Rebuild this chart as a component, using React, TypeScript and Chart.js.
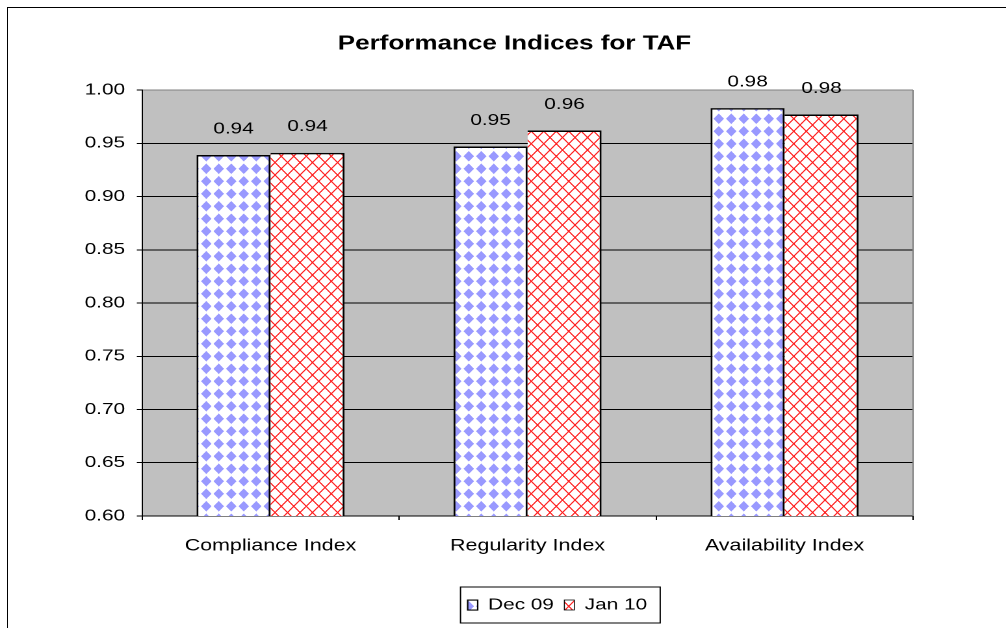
import React, { useEffect, useRef } from 'react';
import { Chart, registerables } from 'chart.js';

Chart.register(...registerables);

// ---- data ----
const titleText = 'Performance Indices for TAF';
const categories = ['Compliance Index', 'Regularity Index', 'Availability Index'];
const seriesNames = ['Dec 09', 'Jan 10'];
const dec09Values = [0.939, 0.947, 0.983];
const jan10Values = [0.941, 0.962, 0.977];
const yMin = 0.6;
const yMax = 1.0;
const yStep = 0.05;

// ---- geometry of the (horizontally stretched) picture ----
const PAGE_W = 1006;
const PAGE_H = 628;
const CANVAS_W = 774;
const STRETCH = PAGE_W / CANVAS_W;
const FONT = '"Liberation Sans", Arial, Helvetica, sans-serif';

function makePattern(
  draw: (c: CanvasRenderingContext2D, s: number) => void,
  periodX: number,
  periodY: number
): CanvasPattern | string {
  const S = 60;
  const off = document.createElement('canvas');
  off.width = S;
  off.height = S;
  const c = off.getContext('2d');
  if (!c) return '#fff';
  c.fillStyle = '#ffffff';
  c.fillRect(0, 0, S, S);
  draw(c, S);
  const p = c.createPattern(off, 'repeat');
  if (!p) return '#fff';
  p.setTransform(new DOMMatrix().scale(periodX / S, periodY / S));
  return p;
}

function diamondPattern() {
  return makePattern(
    (c, S) => {
      const h = S * 0.42;
      c.fillStyle = '#9999ff';
      c.beginPath();
      c.moveTo(S / 2, S / 2 - h);
      c.lineTo(S / 2 + h, S / 2);
      c.lineTo(S / 2, S / 2 + h);
      c.lineTo(S / 2 - h, S / 2);
      c.closePath();
      c.fill();
    },
    12.5 / STRETCH,
    12.5
  );
}

function crossPattern() {
  return makePattern(
    (c, S) => {
      c.strokeStyle = '#ff2020';
      c.lineWidth = 5.5;
      for (let k = -1; k <= 1; k++) {
        c.beginPath();
        c.moveTo(k * S - 6, -6);
        c.lineTo(k * S + S + 6, S + 6);
        c.stroke();
        c.beginPath();
        c.moveTo(k * S + S + 6, -6);
        c.lineTo(k * S - 6, S + 6);
        c.stroke();
      }
    },
    12.5 / STRETCH,
    12.5
  );
}

const plotBackground = {
  id: 'plotBackground',
  beforeDraw(chart: any) {
    const { ctx, chartArea } = chart;
    ctx.save();
    ctx.fillStyle = '#c0c0c0';
    ctx.fillRect(chartArea.left, chartArea.top, chartArea.right - chartArea.left, chartArea.bottom - chartArea.top);
    ctx.restore();
  },
  afterDraw(chart: any) {
    const { ctx, chartArea } = chart;
    ctx.save();
    ctx.strokeStyle = '#808080';
    ctx.lineWidth = 1;
    ctx.beginPath();
    ctx.moveTo(chartArea.right, chartArea.top);
    ctx.lineTo(chartArea.right, chartArea.bottom);
    ctx.stroke();
    ctx.restore();
  },
};

const valueLabels = {
  id: 'valueLabels',
  afterDatasetsDraw(chart: any) {
    const ctx = chart.ctx;
    ctx.save();
    ctx.font = `16px ${FONT}`;
    ctx.fillStyle = '#000';
    ctx.textAlign = 'center';
    ctx.textBaseline = 'middle';
    chart.data.datasets.forEach((ds: any, i: number) => {
      chart.getDatasetMeta(i).data.forEach((el: any, j: number) => {
        ctx.fillText(Number(ds.data[j]).toFixed(2), el.x, el.y - 26);
      });
    });
    ctx.restore();
  },
};

const boxShift = {
  id: 'boxShift',
  afterLayout(chart: any) {
    const lg = chart.legend;
    if (lg) {
      lg.left += 23;
      lg.right += 23;
    }
    const tb = chart.titleBlock;
    if (tb) {
      tb.left -= 10;
      tb.right -= 10;
    }
  },
  afterDraw(chart: any) {
    const lg = chart.legend;
    if (!lg || !lg.legendHitBoxes || !lg.legendHitBoxes.length) return;
    const hb = lg.legendHitBoxes;
    const first = hb[0];
    const last = hb[hb.length - 1];
    const ctx = chart.ctx;
    const l = first.left - 5.5;
    const r = last.left + last.width + 10;
    const t = first.top - 10;
    const b = first.top + first.height + 10;
    ctx.save();
    ctx.strokeStyle = '#000';
    ctx.lineWidth = 1;
    ctx.strokeRect(l, t, r - l, b - t);
    ctx.restore();
  },
};

export default function App() {
  const canvasRef = useRef<HTMLCanvasElement | null>(null);

  useEffect(() => {
    const canvas = canvasRef.current;
    if (!canvas) return;
    const chart = new Chart(canvas, {
      type: 'bar',
      data: {
        labels: categories,
        datasets: [
          {
            label: seriesNames[0],
            data: dec09Values,
            backgroundColor: diamondPattern() as any,
            borderColor: '#000',
            borderWidth: { left: 1.5, top: 1.5, right: 1.5, bottom: 0 } as any,
            categoryPercentage: 0.576,
            barPercentage: 1.0,
          },
          {
            label: seriesNames[1],
            data: jan10Values,
            backgroundColor: crossPattern() as any,
            borderColor: '#000',
            borderWidth: { left: 0, top: 1.5, right: 1.5, bottom: 0 } as any,
            categoryPercentage: 0.576,
            barPercentage: 1.0,
          },
        ],
      },
      options: {
        responsive: false,
        animation: false,
        devicePixelRatio: 2,
        layout: { padding: { left: 0, right: 71.5, top: 0, bottom: 5 } },
        font: { family: FONT },
        plugins: {
          title: {
            display: true,
            text: titleText,
            fullSize: false,
            color: '#000',
            font: { family: FONT, size: 20, weight: 'bold' },
            padding: { top: 32, bottom: 34 },
          },
          legend: {
            display: true,
            position: 'bottom',
            fullSize: false,
            labels: {
              color: '#000',
              font: { family: FONT, size: 16 },
              boxWidth: 7.7,
              boxHeight: 10,
              padding: 8,
            },
          },
          tooltip: { enabled: false },
        },
        scales: {
          x: {
            ticks: {
              color: '#000',
              font: { family: FONT, size: 16.5 },
              padding: 16,
              maxRotation: 0,
              autoSkip: false,
            },
            grid: {
              drawOnChartArea: false,
              drawTicks: true,
              tickLength: 4,
              color: '#000',
              tickColor: '#000',
            },
            border: { display: true, color: '#000', width: 1 },
            afterFit: (scale: any) => {
              scale.height = 73;
            },
          },
          y: {
            min: yMin,
            max: yMax,
            ticks: {
              stepSize: yStep,
              color: '#000',
              font: { family: FONT, size: 16 },
              padding: 9,
              callback: (v: any) => Number(v).toFixed(2),
            },
            grid: {
              color: (c: any) => (c.tick && c.tick.value >= yMax - 1e-6 ? '#808080' : '#000'),
              tickColor: '#000',
              tickLength: 4,
              lineWidth: 1,
            },
            border: { display: true, color: '#000', width: 1 },
            afterFit: (scale: any) => {
              scale.width = 142 / STRETCH;
            },
          },
        },
      } as any,
      plugins: [plotBackground, valueLabels, boxShift],
    });
    return () => {
      chart.destroy();
    };
  }, []);

  return (
    <div
      style={{
        position: 'fixed',
        left: 0,
        top: 0,
        width: PAGE_W,
        height: PAGE_H,
        background: '#fff',
        overflow: 'hidden',
      }}
    >
      <div
        style={{
          position: 'absolute',
          left: 7,
          top: 7,
          right: -20,
          bottom: -20,
          borderTop: '1px solid #000',
          borderLeft: '1px solid #000',
        }}
      />
      <canvas
        ref={canvasRef}
        width={CANVAS_W}
        height={PAGE_H}
        style={{
          position: 'absolute',
          left: 0,
          top: 0,
          width: CANVAS_W,
          height: PAGE_H,
          transform: `scaleX(${STRETCH})`,
          transformOrigin: '0 0',
        }}
      />
    </div>
  );
}
